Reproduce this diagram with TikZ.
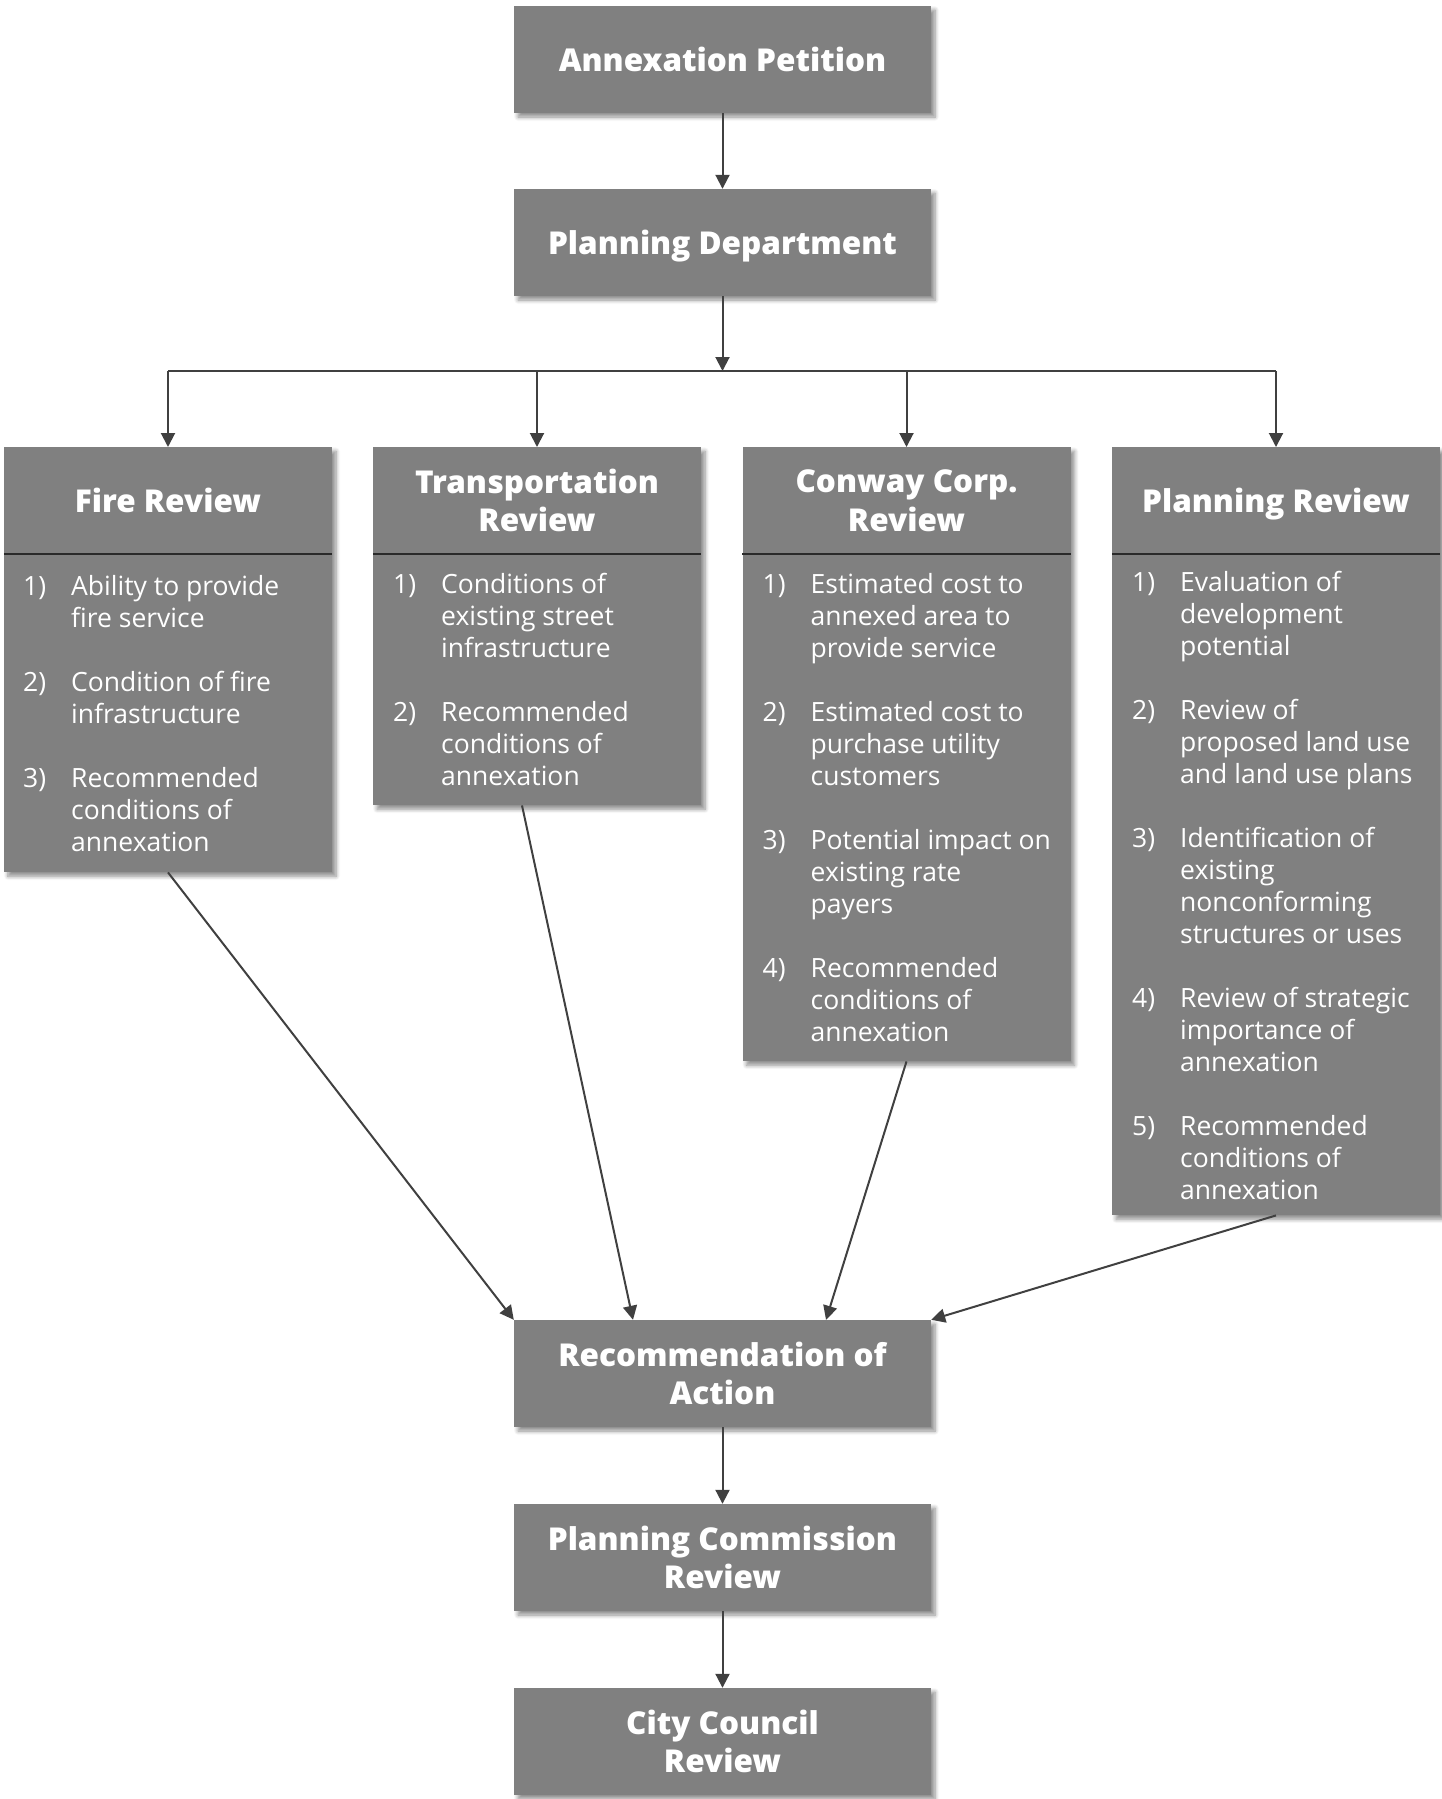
\documentclass[tikz,border=0pt]{standalone}
\usepackage{fontspec}
\setmainfont{Open Sans}
\IfFontExistsTF{Open Sans ExtraBold}
  {\newfontfamily\titlefont{Open Sans ExtraBold}}
  {\IfFontExistsTF{Open Sans Extrabold}
    {\newfontfamily\titlefont{Open Sans Extrabold}}
    {\newfontfamily\titlefont[UprightFont=*, BoldFeatures={FakeBold=1.2}]{Open Sans}\let\oldtitlefont\titlefont\def\titlefont{\oldtitlefont\bfseries}}}
\usetikzlibrary{arrows.meta,shadows.blur}
\definecolor{boxgray}{HTML}{808080}
\definecolor{arrowgray}{HTML}{404040}
\definecolor{divgray}{HTML}{2A2A2A}
\begin{document}
\begin{tikzpicture}[x=1pt,y=-1pt,
  shad/.style={blur shadow={shadow xshift=4pt, shadow yshift=-4pt, shadow blur radius=4pt, shadow blur steps=6, shadow opacity=45}},
  mainbox/.style={rectangle, fill=boxgray, shad, minimum width=417pt, minimum height=107pt, inner sep=0pt, text=white, align=center, text depth=0pt, font=\titlefont\fontsize{31.5}{38.5}\selectfont},
  revbox/.style={rectangle, fill=boxgray, shad, minimum width=328pt, inner sep=0pt, anchor=north},
  revtitle/.style={text=white, align=center, inner sep=0pt, text depth=0pt, font=\titlefont\fontsize{31.5}{38.5}\selectfont},
  revlist/.style={text=white, anchor=base west, inner sep=0pt, font=\fontsize{26.5}{32}\selectfont},
  divider/.style={draw=divgray, line width=1.8pt},
  conn/.style={draw=arrowgray, line width=2pt, -{Triangle[length=14pt,width=14pt]}},
  branch/.style={draw=arrowgray, line width=1.5pt},
]
\useasboundingbox (0,0) rectangle (1442,1799);

% main boxes
\node[mainbox] (ap) at (722.5,59.5) {Annexation Petition};
\node[mainbox] (pd) at (722.5,242.5) {Planning Department};
\node[mainbox] (rec) at (722.5,1373.5) {Recommendation of\\Action};
\node[mainbox] (pc) at (722.5,1557.5) {Planning Commission\\Review};
\node[mainbox] (cc) at (722.5,1741.5) {City Council\\Review};

% review boxes
\node[revbox, minimum height=425pt] (fire) at (168,447) {};
\node[revbox, minimum height=358pt] (trans) at (537,447) {};
\node[revbox, minimum height=614pt] (conway) at (906.5,447) {};
\node[revbox, minimum height=768pt] (plan) at (1276,447) {};

\foreach \b in {fire,trans,conway,plan}{
  \draw[divider] ([yshift=-107pt]\b.north west) -- ([yshift=-107pt]\b.north east);
}

\node[revtitle] (firet) at ([yshift=-53.5pt]fire.north) {Fire Review};
\node[revtitle] (transt) at ([yshift=-53.5pt]trans.north) {Transportation\\Review};
\node[revtitle] (conwayt) at ([yshift=-53.5pt]conway.north) {Conway Corp.\\Review};
\node[revtitle] (plant) at ([yshift=-53.5pt]plan.north) {Planning Review};

\node[revlist] (firel) at (23,595) {\begin{tabular}[t]{@{}p{48pt}@{}l@{}}
1) & Ability to provide\\ & fire service\\[32pt]
2) & Condition of fire\\ & infrastructure\\[32pt]
3) & Recommended\\ & conditions of\\ & annexation
\end{tabular}};

\node[revlist] (transl) at (393,593) {\begin{tabular}[t]{@{}p{48pt}@{}l@{}}
1) & Conditions of\\ & existing street\\ & infrastructure\\[32pt]
2) & Recommended\\ & conditions of\\ & annexation
\end{tabular}};

\node[revlist] (conwayl) at (762.5,593) {\begin{tabular}[t]{@{}p{48pt}@{}l@{}}
1) & Estimated cost to\\ & annexed area to\\ & provide service\\[32pt]
2) & Estimated cost to\\ & purchase utility\\ & customers\\[32pt]
3) & Potential impact on\\ & existing rate\\ & payers\\[32pt]
4) & Recommended\\ & conditions of\\ & annexation
\end{tabular}};

\node[revlist] (planl) at (1132,591) {\begin{tabular}[t]{@{}p{48pt}@{}l@{}}
1) & Evaluation of\\ & development\\ & potential\\[32pt]
2) & Review of\\ & proposed land use\\ & and land use plans\\[32pt]
3) & Identification of\\ & existing\\ & nonconforming\\ & structures or uses\\[32pt]
4) & Review of strategic\\ & importance of\\ & annexation\\[32pt]
5) & Recommended\\ & conditions of\\ & annexation
\end{tabular}};

% connectors
\coordinate (junc) at (722.5,371);
\draw[conn] (ap) -- (pd);
\draw[conn] (pd) -- (junc);
\draw[branch] (fire |- junc) -- (plan |- junc);
\foreach \b in {fire,trans,conway,plan}{
  \draw[conn] (\b |- junc) -- (\b.north);
}
\draw[conn] (fire.south) -- (rec.north west);
\draw[conn] ([xshift=-15pt]trans.south) -- ([xshift=-89.5pt]rec.north);
\draw[conn] (conway.south) -- ([xshift=103.5pt]rec.north);
\draw[conn] (plan.south) -- (rec.north east);
\draw[conn] (rec) -- (pc);
\draw[conn] (pc) -- (cc);
\end{tikzpicture}
\end{document}
